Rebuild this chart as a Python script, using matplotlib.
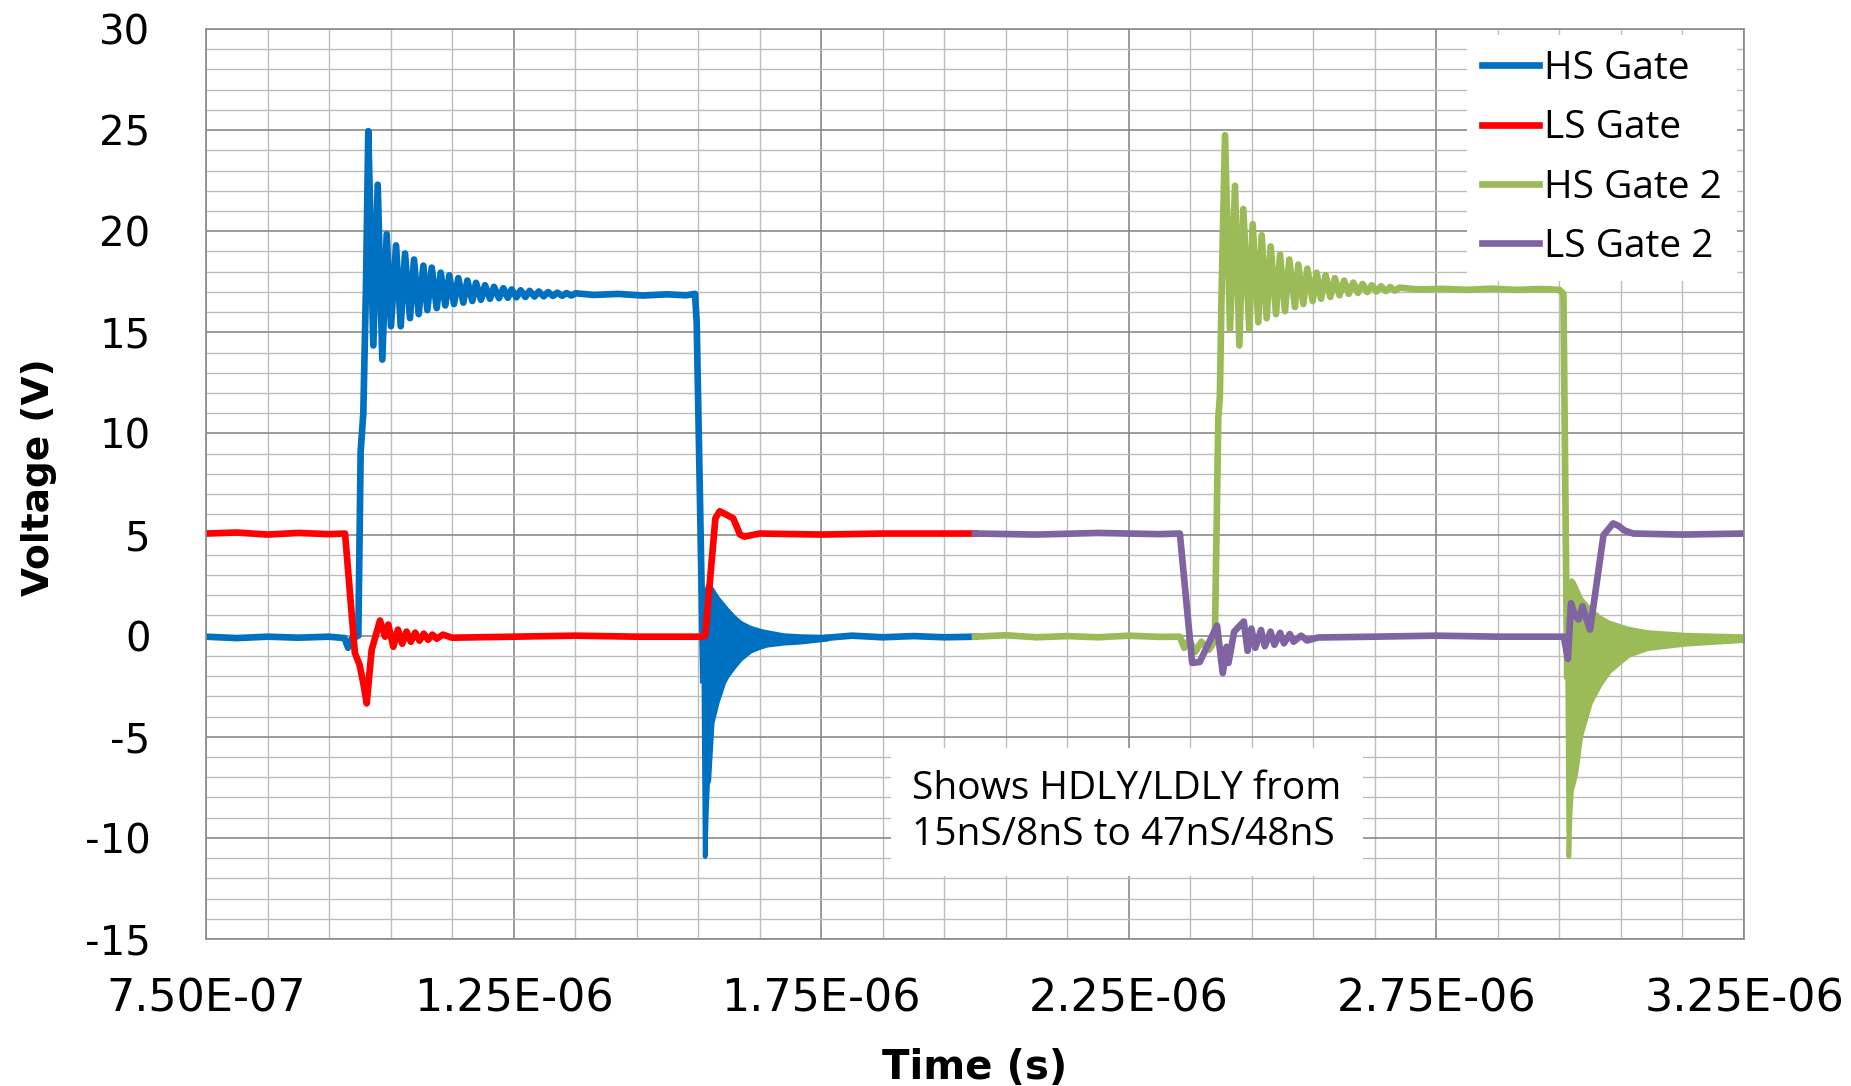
import numpy as np
import matplotlib
matplotlib.use("Agg")
import matplotlib.pyplot as plt
from matplotlib.ticker import FixedLocator, FuncFormatter

# ---- data (time in microseconds, voltage in V) ----
# HS Gate: baseline, turn-on edge, ringing peaks/troughs, plateau, turn-off edge
hs_gate_t = [0.75, 0.80, 0.85, 0.90, 0.95, 0.975, 0.981, 0.987, 0.9976, 1.0014, 1.0057, 1.010,
             1.0138, 1.022, 1.0291, 1.0366, 1.0437, 1.0507, 1.0589, 1.0665, 1.0735, 1.0816,
             1.0881, 1.0957, 1.1033, 1.1098, 1.1169, 1.125, 1.1315, 1.139, 1.1455, 1.1531,
             1.1601, 1.1683, 1.1748, 1.1829, 1.1889, 1.197, 1.2035, 1.2116, 1.2181, 1.2262,
             1.2333, 1.2406, 1.2468, 1.2545, 1.2614, 1.269, 1.276, 1.284, 1.291, 1.299,
             1.306, 1.314, 1.321, 1.329, 1.336, 1.344, 1.351,
             1.38, 1.42, 1.46, 1.50, 1.53, 1.5449, 1.5476, 1.5584]
hs_gate_v = [-0.05, -0.12, -0.05, -0.10, -0.05, -0.12, -0.60, -0.15, 0.0, 9.1, 11.0, 17.2,
             24.95, 14.35, 22.3, 13.65, 19.85, 15.3, 19.3, 15.3, 18.9, 15.7,
             18.6, 15.9, 18.3, 16.1, 18.2, 16.2, 17.95, 16.33, 17.82, 16.4,
             17.68, 16.47, 17.56, 16.55, 17.45, 16.61, 17.33, 16.66, 17.25, 16.69,
             17.18, 16.71, 17.12, 16.73, 17.08, 16.75, 17.05, 16.77, 17.02, 16.78,
             16.99, 16.8, 16.96, 16.81, 16.94, 16.82, 16.93,
             16.85, 16.9, 16.82, 16.88, 16.83, 16.9, 15.5, -2.2]
# HS Gate dense ringing after turn-off (upper / lower envelope)
hs_env_t = [1.5584, 1.5605, 1.5625, 1.5645, 1.5665, 1.572, 1.5801, 1.5909, 1.5963, 1.6071,
            1.618, 1.6343, 1.6505, 1.6614, 1.6884, 1.7155, 1.76]
hs_env_hi = [-2.2, 0.5, 1.9, 2.4, 2.5, 2.3, 1.9, 1.5, 1.3, 0.95, 0.65, 0.4, 0.25, 0.18, 0.03, -0.02, -0.05]
hs_env_lo = [-2.2, -10.9, -8.8, -7.3, -7.15, -4.3, -3.3, -2.3, -2.0, -1.55, -1.15, -0.75, -0.55,
             -0.45, -0.35, -0.3, -0.15]
hs_tail_t = [1.76, 1.80, 1.85, 1.90, 1.95, 2.0]
hs_tail_v = [-0.1, 0.0, -0.08, -0.02, -0.08, -0.05]

# LS Gate
ls_gate_t = [0.75, 0.80, 0.85, 0.90, 0.95, 0.976, 0.992, 0.9997, 1.006, 1.0112, 1.0193,
             1.0328, 1.041, 1.0463, 1.0545, 1.062, 1.069, 1.076, 1.083, 1.090, 1.097,
             1.104, 1.111, 1.118, 1.125, 1.135, 1.15, 1.25, 1.35, 1.45, 1.556,
             1.5615, 1.570, 1.578, 1.585, 1.595, 1.607, 1.618, 1.625, 1.65, 1.75, 1.85, 2.0]
ls_gate_v = [5.05, 5.1, 5.0, 5.08, 5.02, 5.05, -0.85, -1.45, -2.4, -3.35, -0.7,
             0.75, -0.05, 0.55, -0.55, 0.3, -0.4, 0.2, -0.3, 0.15, -0.25,
             0.1, -0.2, 0.05, -0.15, 0.05, -0.1, -0.05, 0.0, -0.05, -0.05,
             0.0, 3.0, 5.8, 6.15, 6.0, 5.8, 5.0, 4.9, 5.05, 5.0, 5.05, 5.05]

# HS Gate 2
hs_gate2_t = [2.0, 2.05, 2.10, 2.15, 2.20, 2.25, 2.30, 2.333, 2.340, 2.348, 2.358, 2.368,
              2.380, 2.387, 2.390, 2.3955, 2.398, 2.401,
              2.4064, 2.4145, 2.4226, 2.4297, 2.4361, 2.4459, 2.4514, 2.4605, 2.466, 2.4741,
              2.4806, 2.4893, 2.4958, 2.5039, 2.5109, 2.5201, 2.5255, 2.5337, 2.5402, 2.5489,
              2.5553, 2.5625, 2.570, 2.5775, 2.585, 2.5925, 2.600, 2.6075, 2.615, 2.6225,
              2.630, 2.6375, 2.645, 2.6525, 2.660, 2.6675, 2.675, 2.6825, 2.69,
              2.72, 2.76, 2.80, 2.84, 2.88, 2.92, 2.950, 2.9565, 2.9625]
hs_gate2_v = [-0.05, 0.02, -0.08, -0.02, -0.08, 0.0, -0.06, -0.05, -0.6, -0.2, -0.8, -0.3,
              -0.7, -0.4, 0.0, 10.8, 11.8, 17.2,
              24.75, 15.15, 22.25, 14.35, 21.1, 15.15, 20.35, 15.5, 19.8, 15.7,
              19.25, 15.9, 18.85, 16.05, 18.6, 16.25, 18.35, 16.4, 18.15, 16.55,
              17.95, 16.66, 17.82, 16.75, 17.68, 16.83, 17.56, 16.9, 17.46, 16.95,
              17.39, 16.99, 17.33, 17.02, 17.28, 17.04, 17.24, 17.06, 17.21,
              17.12, 17.15, 17.1, 17.16, 17.1, 17.14, 17.1, 16.9, -2.0]
hs2_env_t = [2.9625, 2.9645, 2.9665, 2.969, 2.972, 2.976, 2.984, 2.9997, 3.0155, 3.0306,
             3.062, 3.093, 3.155, 3.25]
hs2_env_hi = [-2.0, 0.5, 1.9, 2.75, 2.65, 2.4, 1.85, 1.3, 0.9, 0.65, 0.35, 0.18, 0.05, -0.02]
hs2_env_lo = [-2.0, -10.9, -8.8, -7.6, -7.3, -6.8, -4.95, -3.3, -2.4, -1.75, -0.95, -0.62,
              -0.4, -0.22]

# LS Gate 2
ls_gate2_t = [2.0, 2.1, 2.2, 2.3, 2.333, 2.353, 2.3654, 2.3934, 2.4027, 2.4089, 2.412, 2.4213,
              2.4369, 2.4431, 2.4493, 2.4556, 2.4649, 2.4711, 2.4804, 2.4867, 2.496, 2.5022,
              2.5116, 2.5178, 2.5302, 2.5396, 2.558, 2.65, 2.75, 2.85, 2.957,
              2.9638, 2.9687, 2.975, 2.9812, 2.9874, 2.993, 2.9998, 3.0216, 3.0372, 3.045,
              3.0558, 3.07, 3.15, 3.25]
ls_gate2_v = [5.05, 5.0, 5.08, 5.02, 5.05, -1.35, -1.3, 0.5, -1.85, -0.55, -1.35, 0.2,
              0.7, -0.75, 0.35, -0.6, 0.28, -0.52, 0.2, -0.45, 0.14, -0.38,
              0.08, -0.3, 0.0, -0.24, -0.09, -0.05, 0.0, -0.05, -0.05,
              -1.15, 1.6, 1.0, 0.8, 1.45, 0.9, 0.3, 4.97, 5.55, 5.45,
              5.2, 5.05, 5.0, 5.05]

series_names = ["HS Gate", "LS Gate", "HS Gate 2", "LS Gate 2"]
series_colors = ["#0070C0", "#FF0000", "#9BBB59", "#8064A2"]

x_major_us = [0.75, 1.25, 1.75, 2.25, 2.75, 3.25]
y_major = [-15, -10, -5, 0, 5, 10, 15, 20, 25, 30]
note_text = "Shows HDLY/LDLY from\n15nS/8nS to 47nS/48nS"

US = 1e-6
LW = 4.8

plt.rcParams["axes.unicode_minus"] = False

fig = plt.figure(figsize=(18.51, 10.86), dpi=100)
ax = fig.add_axes([206 / 1851, 1 - 939 / 1086, 1538 / 1851, 910 / 1086])

c_hs, c_ls, c_hs2, c_ls2 = series_colors

# draw in Excel series order (later series on top)
ax.plot(np.array(hs_gate_t) * US, hs_gate_v, color=c_hs, lw=LW, solid_joinstyle="round")
ax.fill_between(np.array(hs_env_t) * US, hs_env_lo, hs_env_hi, color=c_hs, lw=LW * 0.7,
                edgecolor=c_hs)
ax.plot(np.array(hs_tail_t) * US, hs_tail_v, color=c_hs, lw=LW)
ax.plot(np.array(ls_gate_t) * US, ls_gate_v, color=c_ls, lw=LW, solid_joinstyle="round")
ax.plot(np.array(hs_gate2_t) * US, hs_gate2_v, color=c_hs2, lw=LW, solid_joinstyle="round")
ax.fill_between(np.array(hs2_env_t) * US, hs2_env_lo, hs2_env_hi, color=c_hs2, lw=LW * 0.7,
                edgecolor=c_hs2)
ax.plot(np.array(ls_gate2_t) * US, ls_gate2_v, color=c_ls2, lw=LW, solid_joinstyle="round")

# axes, grid
ax.set_xlim(x_major_us[0] * US, x_major_us[-1] * US)
ax.set_ylim(y_major[0], y_major[-1])
ax.xaxis.set_major_locator(FixedLocator(np.array(x_major_us) * US))
ax.xaxis.set_minor_locator(FixedLocator(np.arange(0.75, 3.2501, 0.1) * US))
ax.xaxis.set_major_formatter(FuncFormatter(lambda x, p: f"{x:.2E}"))
ax.yaxis.set_major_locator(FixedLocator(y_major))
ax.yaxis.set_minor_locator(FixedLocator(np.arange(-15, 31, 1)))

ax.grid(which="minor", color="#bdbdbd", lw=1.0)
ax.grid(which="major", color="#8a8a8a", lw=1.2)
ax.set_axisbelow(True)
for s in ax.spines.values():
    s.set_color("#8a8a8a")
    s.set_linewidth(1.2)

ax.tick_params(which="both", length=0)
ax.tick_params(axis="y", labelsize=29, pad=40)
ax.tick_params(axis="x", labelsize=32, pad=28)

ax.set_xlabel("Time (s)", fontsize=29, fontweight="bold")
ax.set_ylabel("Voltage (V)", fontsize=27, fontweight="bold")
ax.xaxis.set_label_coords(0.5, -0.12)
ax.yaxis.set_label_coords(-0.097, 0.508)

# legend
handles = [plt.Line2D([0], [0], color=c, lw=LW) for c in series_colors]
leg = ax.legend(handles, series_names, loc="upper right", bbox_to_anchor=(0.9954, 0.9934),
                borderaxespad=0, frameon=True, fancybox=False, framealpha=1,
                edgecolor="none", facecolor="white", handlelength=1.45, handletextpad=0.15,
                labelspacing=0.55, borderpad=0.38,
                prop={"family": ["Open Sans", "DejaVu Sans"], "size": 28})

# note box
ax.text((912 - 206) / 1538, (939 - 812) / 910, note_text, transform=ax.transAxes,
        ha="left", va="center", fontsize=28, family=["Open Sans", "DejaVu Sans"],
        linespacing=1.3,
        bbox=dict(boxstyle="square,pad=0.55", facecolor="white", edgecolor="none"))

fig.savefig("out.png", dpi=100, facecolor="white")
